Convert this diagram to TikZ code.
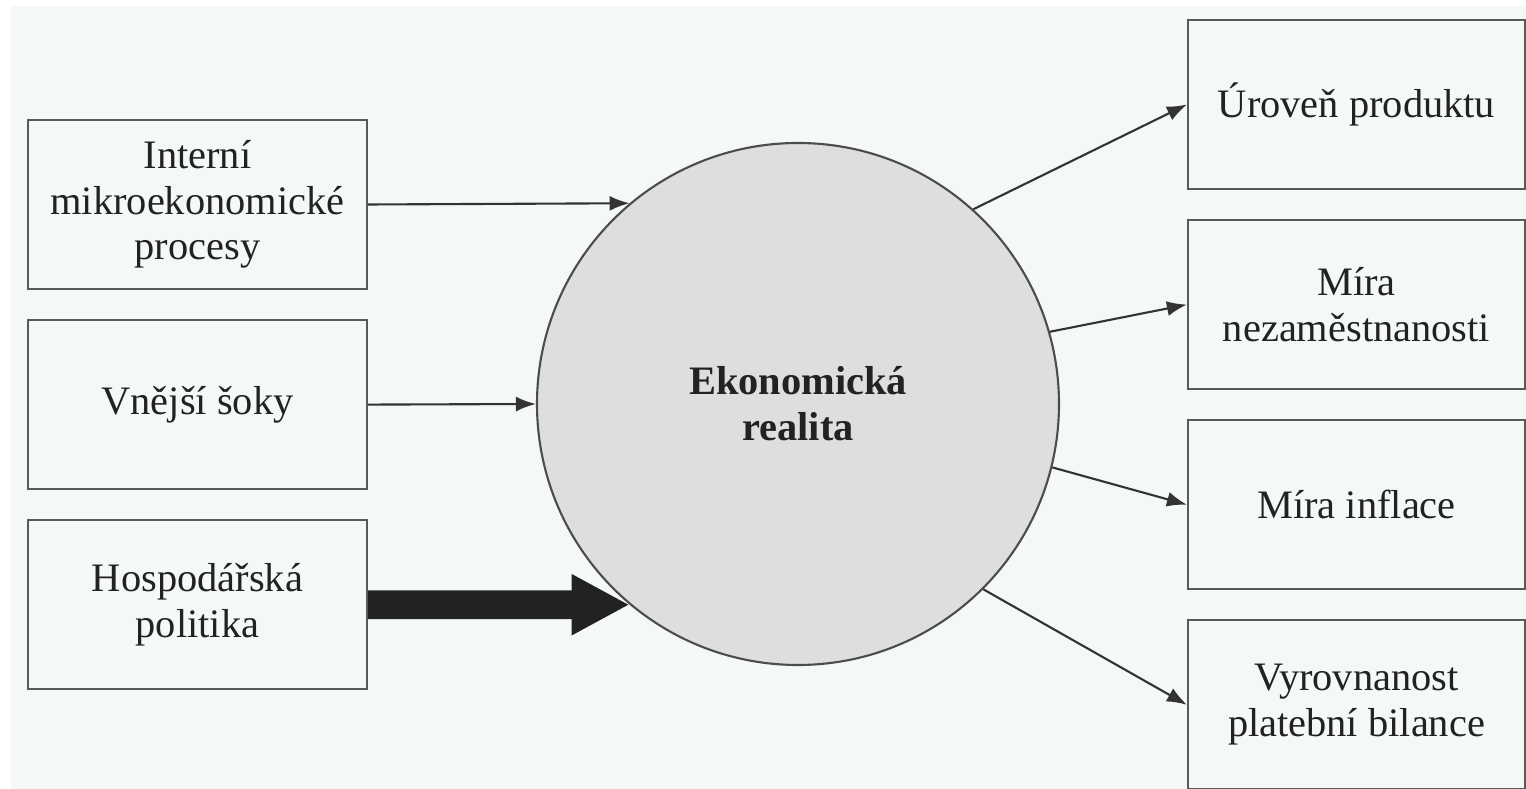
\documentclass[tikz,border=0pt]{standalone}
\usepackage{fontspec}
\setmainfont{Liberation Serif}
\usetikzlibrary{positioning,arrows.meta}
\definecolor{bgpaper}{HTML}{F5F9F6}
\definecolor{corefill}{HTML}{DEDEDE}
\definecolor{ink}{HTML}{222222}

\begin{document}
\begin{tikzpicture}[
	font=\fontsize{11.5}{13}\selectfont,
	text=ink,
	node distance=0.29cm,
	box/.style={draw=black!65, line width=0.6pt, minimum width=3.39cm, minimum height=1.69cm, align=center, inner sep=0pt},
	rbox/.style={box, minimum width=3.37cm},
	core/.style={circle, draw=black!70, line width=0.6pt, fill=corefill, minimum size=5.22cm, inner sep=0pt, align=center, font=\fontsize{11.5}{13}\selectfont\bfseries},
	link/.style={draw=black!80, line width=0.6pt, -{Latex[length=2mm,width=1.5mm]}},
	force/.style={draw=ink, line width=8.2pt, -{Triangle[length=5.8mm,width=5.7mm]}}
	]
	\useasboundingbox (0,-7.89) rectangle (15.26,0);
	\fill[bgpaper] (0.11,-7.89) rectangle (15.26,-0.06);
	%% levá strana
	\node[box] (intern) at (1.975,-2.045) {Interní\\mikroekonomické\\procesy};
	\node[box, below =of intern] (soky) {Vnější šoky};
	\node[box, below =of soky] (politika) {Hospodářská\\politika};
	%% střed
	\node[core] (realita) at (7.98,-4.04) {Ekonomická\\realita};
	%% pravá strana
	\node[rbox] (produkt) at (13.565,-1.045) {Úroveň produktu};
	\node[rbox, below =of produkt] (nezam) {Míra\\nezaměstnanosti};
	\node[rbox, below =of nezam] (inflace) {Míra inflace};
	\node[rbox, below =of inflace] (bilance) {Vyrovnanost\\platební bilance};
	% šipky dovnitř
	\draw[link] (intern.east) -- (realita.130);
	\draw[link] (soky.east) -- (realita.west);
	\draw[force] (politika.east) -- (realita.230);
	% šipky ven
	\draw[link] (realita.48.7) -- (produkt.west);
	\draw[link] (realita.16.9) -- (nezam.west);
	\draw[link] (realita.-14.6) -- (inflace.west);
	\draw[link] (realita.-45.8) -- (bilance.west);
\end{tikzpicture}
\end{document}
